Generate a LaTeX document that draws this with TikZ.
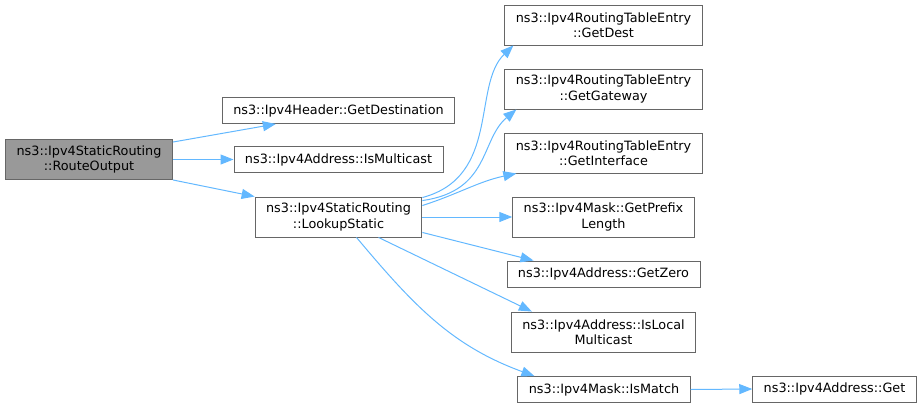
\documentclass[tikz,border=0pt]{standalone}
\usepackage{fontspec}
\setmainfont{DejaVu Sans}
\usetikzlibrary{arrows.meta,positioning}
\definecolor{edgeblue}{HTML}{63B8FF}
\definecolor{boxgray}{HTML}{666666}
\definecolor{rootgray}{HTML}{999999}

\tikzset{
  fn/.style={draw=boxgray,line width=0.9pt,fill=white,inner xsep=11pt,
    inner ysep=0pt,minimum height=26pt,align=center,
    font=\fontsize{12.8}{15.5}\selectfont},
  fntwo/.style={fn,minimum height=40pt},
  fnroot/.style={fntwo,fill=rootgray},
  call/.style={->,draw=edgeblue,line width=1pt}
}

\begin{document}
\begin{tikzpicture}[x=1pt,y=1pt,>={Triangle[length=13pt,width=10pt]}]
\useasboundingbox (0,0) rectangle (923,-407);
% caller
\node[fnroot] (RouteOutput) at (89,-159.5) {ns3::Ipv4StaticRouting\\::RouteOutput};
% called from RouteOutput
\node[fn] (GetDestination) at (338.5,-110.5) {ns3::Ipv4Header::GetDestination};
\node[fn] (IsMulticast) at (338.5,-159.5) {ns3::Ipv4Address::IsMulticast};
\node[fntwo] (LookupStatic) at (338.5,-217) {ns3::Ipv4StaticRouting\\::LookupStatic};
% called from LookupStatic
\node[fntwo] (GetDest) at (603.5,-25) {ns3::Ipv4RoutingTableEntry\\::GetDest};
\node[fntwo] (GetGateway) at (603.5,-89) {ns3::Ipv4RoutingTableEntry\\::GetGateway};
\node[fntwo] (GetInterface) at (603.5,-153) {ns3::Ipv4RoutingTableEntry\\::GetInterface};
\node[fntwo] (GetPrefixLength) at (603.5,-217) {ns3::Ipv4Mask::GetPrefix\\Length};
\node[fn] (GetZero) at (603.5,-274) {ns3::Ipv4Address::GetZero};
\node[fntwo] (IsLocalMulticast) at (603.5,-332) {ns3::Ipv4Address::IsLocal\\Multicast};
\node[fn] (IsMatch) at (604,-389.5) {ns3::Ipv4Mask::IsMatch};
\node[fn] (Get) at (834.5,-389) {ns3::Ipv4Address::Get};

\begin{scope}[call]
\draw ([yshift=-3pt]RouteOutput.north east) -- ([xshift=54pt]GetDestination.south west);
\draw (RouteOutput.east) -- (IsMulticast.west);
\draw (RouteOutput.south east) -- (LookupStatic.north west);
\draw ([yshift=-1pt]LookupStatic.north east) to[out=15,in=-136,out looseness=1.17,in looseness=0.83] ([xshift=9pt]GetDest.south west);
\draw ([yshift=-4pt]LookupStatic.north east) to[out=8,in=-140,out looseness=1.34,in looseness=0.92] ([xshift=12pt]GetGateway.south west);
\draw ([yshift=-9pt]LookupStatic.north east) to[out=18,in=-168] ([xshift=12pt]GetInterface.south west);
\draw (LookupStatic.east) -- (GetPrefixLength.west);
\draw ([yshift=5pt]LookupStatic.south east) -- ([xshift=27pt]GetZero.north west);
\draw ([xshift=40pt]LookupStatic.south) -- ([xshift=21pt]IsLocalMulticast.north west);
\draw ([xshift=18pt]LookupStatic.south) to[out=-50,in=160] ([xshift=17pt]IsMatch.north west);
\draw (IsMatch.east) -- (Get.west);
\end{scope}
\end{tikzpicture}
\end{document}
